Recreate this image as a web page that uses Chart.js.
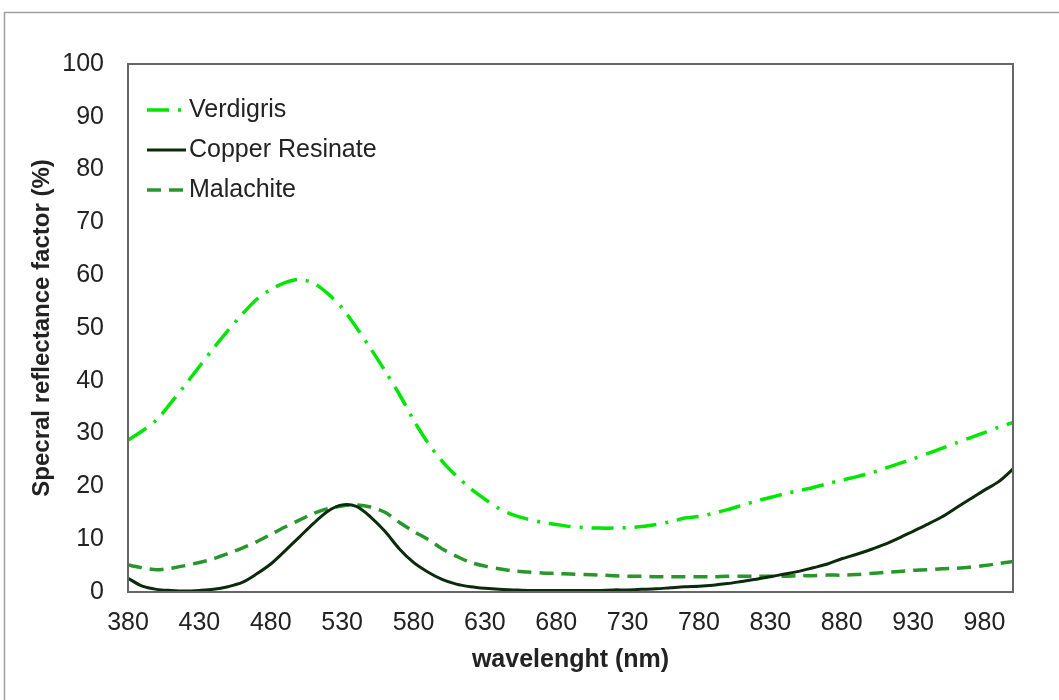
<!DOCTYPE html>
<html>
<head>
<meta charset="utf-8">
<script src="https://cdn.jsdelivr.net/npm/chart.js@4"></script>
<style>
  html, body { margin: 0; padding: 0; background: #fff; }
  #wrap { width: 1059px; height: 700px; }
</style>
</head>
<body>
<div id="wrap"><canvas id="spectraChart" width="1059" height="700"></canvas></div>
<script>
const wavelengths = [380, 390, 400, 410, 420, 430, 440, 450, 460, 470, 480, 490, 500, 510, 520, 530, 540, 550, 560, 570,
    580, 590, 600, 610, 620, 630, 640, 650, 660, 670, 680, 690, 700, 710, 720, 730, 740, 750, 760, 770,
    780, 790, 800, 810, 820, 830, 840, 850, 860, 870, 880, 890, 900, 910, 920, 930, 940, 950, 960, 970,
    980, 990, 1000];

const verdigris = [28.8, 30.5, 32.6, 35.8, 39.2, 42.7, 46.2, 49.5, 52.6, 55.4, 57.3, 58.6, 59.2, 58.5, 56.5, 53.8, 50.1, 46.1, 41.9, 37.5,
    32.6, 28.3, 24.8, 22.0, 19.6, 17.6, 15.8, 14.6, 13.8, 13.2, 12.8, 12.4, 12.2, 12.1, 12.1, 12.2, 12.4, 12.8, 13.3, 14.0,
    14.3, 14.9, 15.6, 16.4, 17.2, 17.9, 18.6, 19.2, 19.8, 20.5, 21.2, 21.8, 22.5, 23.4, 24.3, 25.2, 26.2, 27.2, 28.2, 29.2,
    30.2, 31.2, 32.1];

const copperResinate = [2.6, 1.1, 0.5, 0.3, 0.2, 0.3, 0.5, 1.0, 1.8, 3.4, 5.3, 7.8, 10.4, 13.0, 15.3, 16.5, 16.2, 14.2, 11.5, 8.2,
    5.6, 3.8, 2.4, 1.5, 1.0, 0.7, 0.5, 0.4, 0.3, 0.3, 0.3, 0.3, 0.3, 0.3, 0.4, 0.4, 0.5, 0.6, 0.8, 1.0,
    1.1, 1.3, 1.6, 2.0, 2.4, 2.9, 3.4, 3.9, 4.6, 5.3, 6.3, 7.1, 8.0, 9.0, 10.2, 11.5, 12.8, 14.2, 15.9, 17.6,
    19.3, 20.9, 23.3];

const malachite = [5.1, 4.6, 4.2, 4.5, 5.0, 5.6, 6.3, 7.3, 8.3, 9.5, 10.9, 12.3, 13.6, 14.9, 15.8, 16.3, 16.5, 16.1, 15.1, 13.2,
    11.5, 10.0, 8.2, 6.8, 5.6, 4.9, 4.4, 4.0, 3.8, 3.6, 3.5, 3.4, 3.3, 3.2, 3.1, 3.0, 3.0, 2.9, 2.9, 2.9,
    2.9, 2.9, 3.0, 3.0, 3.0, 3.0, 3.0, 3.1, 3.1, 3.2, 3.2, 3.3, 3.5, 3.7, 3.9, 4.1, 4.2, 4.4, 4.5, 4.7,
    5.0, 5.4, 5.8];

const xTicks = [380, 430, 480, 530, 580, 630, 680, 730, 780, 830, 880, 930, 980];

const toPoints = (ys) => ys.map((y, i) => ({ x: wavelengths[i], y: y }));

// legend drawn inside the plot, top left
const innerLegend = {
    id: 'innerLegend',
    afterDraw(chart) {
        const ctx = chart.ctx;
        ctx.save();
        // plot frame
        const a = chart.chartArea;
        ctx.strokeStyle = '#666';
        ctx.lineWidth = 2;
        ctx.setLineDash([]);
        ctx.strokeRect(a.left, a.top, a.right - a.left, a.bottom - a.top);

        chart.data.datasets.forEach((ds, i) => {
            const y = 110 + i * 40;
            ctx.strokeStyle = ds.borderColor;
            ctx.lineWidth = ds.borderWidth;
            ctx.setLineDash(ds.borderDash || []);
            ctx.beginPath();
            ctx.moveTo(147, y);
            ctx.lineTo(186, y);
            ctx.stroke();
            ctx.setLineDash([]);
            ctx.fillStyle = '#222';
            ctx.font = '25px "Liberation Sans", Arial, sans-serif';
            ctx.textBaseline = 'middle';
            ctx.fillText(ds.label, 189, y);
        });
        ctx.restore();
    }
};

// outer gray frame of the figure
const outerFrame = {
    id: 'outerFrame',
    beforeDraw(chart) {
        const ctx = chart.ctx;
        ctx.save();
        ctx.fillStyle = '#fff';
        ctx.fillRect(0, 0, chart.width, chart.height);
        ctx.strokeStyle = '#a0a0a0';
        ctx.lineWidth = 1.5;
        ctx.strokeRect(4.5, 12.5, 2000, 2000);
        ctx.restore();
    }
};

Chart.defaults.font.family = '"Liberation Sans", Arial, sans-serif';
Chart.defaults.color = '#222';

const ctx = document.getElementById('spectraChart').getContext('2d');
const spectraChart = new Chart(ctx, {
    type: 'line',
    data: {
        datasets: [{
            label: 'Verdigris',
            data: toPoints(verdigris),
            borderColor: '#00e600',
            borderWidth: 3.5,
            borderDash: [22, 9, 3, 9],
            pointRadius: 0,
            tension: 0.3
        }, {
            label: 'Copper Resinate',
            data: toPoints(copperResinate),
            borderColor: '#0c2a0c',
            borderWidth: 3,
            pointRadius: 0,
            tension: 0.3
        }, {
            label: 'Malachite',
            data: toPoints(malachite),
            borderColor: '#27962b',
            borderWidth: 3.5,
            borderDash: [14, 8],
            pointRadius: 0,
            tension: 0.3
        }]
    },
    options: {
        responsive: false,
        animation: false,
        layout: {
            padding: { top: 64, right: 46, left: 0, bottom: 0 }
        },
        plugins: {
            legend: { display: false },
            tooltip: { enabled: false }
        },
        scales: {
            x: {
                type: 'linear',
                min: 380,
                max: 1000,
                afterBuildTicks: (scale) => {
                    scale.ticks = xTicks.map(v => ({ value: v }));
                },
                afterFit: (scale) => { scale.height = 108; },
                grid: { display: false, drawTicks: false },
                border: { display: false },
                ticks: {
                    font: { size: 25 },
                    padding: 16,
                    maxRotation: 0,
                    autoSkip: false
                },
                title: {
                    display: true,
                    text: 'wavelenght (nm)',
                    font: { size: 25, weight: 'bold' },
                    padding: { top: 0, bottom: 25 }
                }
            },
            y: {
                min: 0,
                max: 100,
                afterFit: (scale) => { scale.width = 128; },
                grid: { display: false, drawTicks: false },
                border: { display: false },
                ticks: {
                    stepSize: 10,
                    font: { size: 25 },
                    padding: 24
                },
                title: {
                    display: true,
                    text: 'Specral reflectance factor (%)',
                    font: { size: 24, weight: 'bold' },
                    padding: { top: 28, bottom: 0 }
                }
            }
        }
    },
    plugins: [outerFrame, innerLegend]
});
</script>
</body>
</html>
